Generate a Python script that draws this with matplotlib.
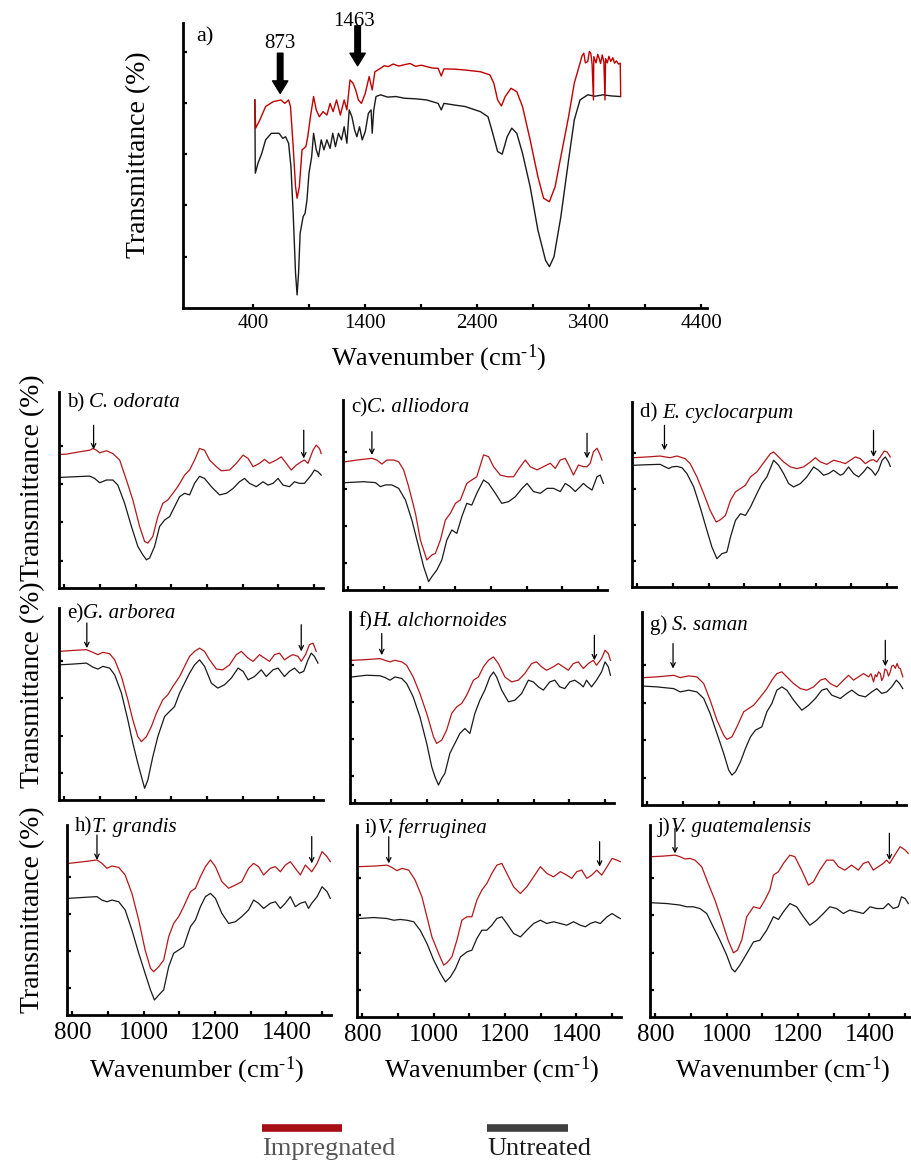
import matplotlib
matplotlib.use('Agg')
import matplotlib.pyplot as plt
from matplotlib.lines import Line2D

plt.rcParams['font.family'] = ['Liberation Serif', 'DejaVu Serif']
plt.rcParams['mathtext.fontset'] = 'custom'
plt.rcParams['mathtext.rm'] = 'Liberation Serif'
plt.rcParams['mathtext.it'] = 'Liberation Serif:italic'
plt.rcParams['mathtext.bf'] = 'Liberation Serif:bold'

RED = '#b3171b'
DARK = '#1a1a1a'
XLABEL = 'Wavenumber (cm$^{\u2010 1}$)'

# ---- panel a: full FTIR spectrum (wavenumber, transmittance) ----
a_untreated = [(416, 73.0), (420, 47.3), (444, 50.8), (478, 54.3), (512, 59.0), (563, 61.3), (632, 61.3),
               (666, 59.5), (690, 60.1), (717, 57.8), (738, 49.6), (758, 33.2), (779, 12.2), (793, 4.6),
               (806, 12.2), (820, 26.2), (847, 32.1), (864, 33.2), (881, 37.9), (899, 47.3), (923, 53.1),
               (940, 61.3), (964, 55.5), (984, 53.1), (1008, 59.0), (1032, 55.5), (1059, 59.0), (1087, 56.0),
               (1111, 61.3), (1135, 56.6), (1162, 61.3), (1189, 59.0), (1213, 63.6), (1237, 57.8), (1258, 69.5),
               (1282, 67.1), (1306, 62.5), (1326, 60.1), (1350, 63.6), (1374, 59.0), (1401, 61.9), (1429, 68.3),
               (1453, 69.5), (1463, 61.3), (1477, 69.5), (1497, 74.2), (1538, 74.8), (1600, 74.0), (1675, 74.2),
               (1750, 73.6), (1850, 73.4), (1949, 73.0), (2051, 71.8), (2079, 69.5), (2103, 71.8), (2200, 71.2),
               (2291, 70.7), (2428, 68.9), (2496, 67.1), (2530, 62.5), (2582, 54.9), (2623, 54.0), (2667, 60.1),
               (2708, 63.1), (2753, 61.3), (2804, 54.3), (2872, 42.6), (2941, 27.4), (3009, 16.8), (3044, 14.5),
               (3085, 18.0), (3146, 32.0), (3215, 51.9), (3266, 66.0), (3317, 73.0), (3386, 74.8), (3450, 74.3),
               (3522, 74.8), (3600, 74.4), (3676, 74.2)]
a_impregnated = [(416, 73.0), (423, 63.1), (461, 66.0), (512, 70.7), (580, 72.4), (649, 73.0), (683, 71.8),
                 (717, 73.0), (734, 70.7), (758, 56.6), (779, 42.6), (793, 38.5), (813, 42.6), (837, 55.5),
                 (871, 56.6), (888, 60.1), (912, 67.1), (940, 74.2), (964, 69.5), (991, 67.1), (1025, 68.9),
                 (1059, 67.7), (1087, 71.8), (1114, 68.9), (1145, 73.0), (1179, 67.7), (1213, 73.0), (1237, 69.5),
                 (1265, 80.0), (1292, 78.9), (1316, 76.5), (1340, 73.0), (1367, 71.8), (1401, 75.3), (1436, 81.2),
                 (1463, 76.5), (1487, 82.9), (1538, 84.1), (1570, 85.0), (1607, 84.7), (1650, 85.6), (1700, 84.9),
                 (1744, 85.3), (1800, 85.8), (1850, 84.8), (1900, 85.2), (1949, 84.7), (2000, 84.2), (2051, 84.1),
                 (2079, 81.4), (2103, 83.9), (2200, 83.8), (2291, 83.5), (2428, 82.9), (2513, 81.8), (2548, 78.9),
                 (2582, 73.0), (2616, 70.9), (2650, 74.2), (2701, 77.1), (2753, 75.9), (2804, 70.7), (2872, 59.0),
                 (2941, 46.1), (2992, 38.5), (3044, 37.3), (3095, 42.6), (3146, 53.1), (3215, 67.1), (3266, 78.9),
                 (3317, 85.9), (3335, 88.5), (3351, 89.4), (3365, 86.0), (3386, 86.5), (3400, 90.0), (3413, 89.4),
                 (3425, 85.5), (3437, 73.0), (3440, 88.2), (3460, 86.0), (3475, 89.0), (3488, 87.6), (3500, 85.8),
                 (3516, 88.8), (3530, 86.3), (3540, 73.0), (3545, 87.5), (3560, 86.0), (3575, 88.3), (3591, 86.5),
                 (3610, 87.8), (3625, 85.9), (3642, 86.7), (3660, 85.6), (3676, 85.9), (3680, 74.2)]
a_peaks = [873, 1463]

# ---- panels b-j: 800-1500 cm-1 region per species ----
b_imp = [(785, 68.1), (806, 68.3), (843, 69.5), (871, 70.3), (880, 71.2), (890, 70.3), (899, 69.0), (918, 70.0),
         (936, 68.6), (955, 65.3), (974, 55.1), (992, 44.9), (1011, 31.4), (1025, 23.7), (1034, 22.9),
         (1048, 26.3), (1062, 36.4), (1076, 43.2), (1090, 44.9), (1104, 48.3), (1118, 51.7), (1137, 57.6),
         (1151, 60.2), (1165, 65.3), (1179, 71.2), (1193, 70.3), (1207, 65.3), (1226, 61.9), (1240, 59.8),
         (1263, 60.2), (1282, 63.6), (1301, 67.8), (1315, 66.1), (1329, 61.9), (1347, 63.6), (1361, 65.6),
         (1375, 63.6), (1394, 65.3), (1408, 66.9), (1422, 63.6), (1436, 60.2), (1450, 62.7), (1464, 64.4),
         (1473, 65.3), (1483, 63.6), (1497, 70.3), (1506, 72.9), (1515, 71.2), (1520, 68.6)]
b_unt = [(785, 56.4), (834, 56.8), (871, 57.1), (885, 55.9), (899, 53.7), (918, 55.1), (936, 55.1), (950, 52.5),
         (969, 43.2), (988, 31.4), (1006, 21.2), (1020, 16.9), (1030, 14.4), (1039, 15.3), (1053, 21.2),
         (1067, 31.4), (1081, 34.7), (1095, 36.4), (1109, 41.5), (1123, 46.6), (1137, 48.3), (1151, 47.5),
         (1165, 53.4), (1179, 57.0), (1193, 55.9), (1212, 51.7), (1235, 47.5), (1254, 48.3), (1273, 50.8),
         (1291, 54.2), (1305, 55.9), (1319, 53.4), (1338, 51.7), (1357, 54.2), (1371, 52.5), (1385, 53.4),
         (1399, 55.9), (1413, 52.5), (1431, 51.7), (1445, 54.2), (1459, 53.4), (1473, 53.4), (1492, 57.6),
         (1501, 60.2), (1511, 59.3), (1520, 57.6)]

c_imp = [(792, 67.5), (824, 68.4), (866, 69.3), (880, 68.4), (894, 66.3), (908, 68.4), (927, 68.4), (941, 67.5),
         (955, 63.2), (969, 54.4), (988, 40.4), (1002, 26.3), (1020, 15.8), (1034, 18.4), (1044, 19.3),
         (1058, 26.3), (1072, 36.8), (1086, 40.4), (1100, 45.6), (1114, 47.4), (1132, 56.1), (1146, 57.9),
         (1160, 59.6), (1179, 71.1), (1193, 70.2), (1207, 64.9), (1226, 60.5), (1245, 59.6), (1263, 59.6),
         (1282, 64.9), (1296, 68.4), (1310, 64.9), (1329, 63.2), (1347, 64.9), (1366, 66.7), (1380, 64.0),
         (1394, 68.4), (1408, 69.3), (1420, 64.9), (1431, 60.5), (1445, 65.8), (1459, 64.9), (1469, 64.9),
         (1478, 66.7), (1487, 72.8), (1497, 74.6), (1504, 71.9), (1511, 68.4)]
c_unt = [(792, 56.5), (843, 57.0), (876, 56.5), (890, 54.4), (904, 55.3), (922, 55.3), (941, 53.5), (960, 47.4),
         (978, 36.8), (997, 22.8), (1011, 12.3), (1025, 4.4), (1034, 7.0), (1048, 10.5), (1062, 15.8),
         (1076, 26.3), (1090, 31.6), (1104, 29.8), (1118, 38.6), (1132, 45.6), (1146, 44.7), (1160, 50.9),
         (1179, 57.9), (1193, 56.1), (1212, 50.9), (1230, 45.6), (1249, 46.5), (1268, 49.1), (1287, 53.5),
         (1301, 56.1), (1319, 51.8), (1338, 50.9), (1357, 53.5), (1375, 53.5), (1394, 51.8), (1408, 56.1),
         (1422, 54.4), (1436, 51.8), (1450, 54.4), (1459, 56.1), (1469, 54.4), (1483, 52.6), (1497, 59.6),
         (1506, 60.5), (1515, 56.1)]

d_imp = [(790, 69.9), (827, 70.3), (864, 70.8), (878, 70.3), (892, 69.9), (911, 70.8), (934, 69.4), (948, 66.7),
         (967, 59.5), (986, 50.5), (1004, 41.4), (1021, 35.1), (1033, 36.4), (1047, 38.7), (1061, 46.8),
         (1075, 51.4), (1089, 53.2), (1103, 55.0), (1117, 59.5), (1135, 62.2), (1159, 68.5), (1173, 72.1),
         (1182, 73.0), (1196, 70.3), (1210, 67.6), (1229, 64.9), (1247, 64.0), (1266, 64.9), (1285, 67.6),
         (1299, 69.9), (1313, 67.6), (1331, 66.3), (1350, 68.5), (1369, 67.6), (1383, 66.7), (1397, 68.5),
         (1411, 70.3), (1425, 69.4), (1439, 66.7), (1453, 68.5), (1462, 68.8), (1471, 67.6), (1481, 70.3),
         (1492, 73.5), (1500, 73.0), (1509, 70.3)]
d_unt = [(790, 65.8), (827, 66.1), (864, 66.3), (878, 64.9), (888, 64.0), (897, 64.9), (911, 65.2), (925, 64.5),
         (939, 61.3), (958, 54.1), (976, 43.2), (995, 30.6), (1009, 21.6), (1023, 15.3), (1037, 18.0),
         (1051, 18.9), (1061, 27.0), (1075, 36.0), (1089, 39.6), (1103, 38.7), (1117, 43.2), (1135, 50.5),
         (1149, 55.9), (1163, 59.5), (1182, 68.5), (1196, 65.8), (1210, 61.3), (1224, 55.9), (1238, 54.1),
         (1257, 55.9), (1275, 59.5), (1294, 64.9), (1308, 63.1), (1322, 60.4), (1336, 61.3), (1350, 63.1),
         (1369, 60.4), (1378, 61.3), (1392, 64.9), (1406, 61.3), (1420, 59.5), (1434, 62.2), (1445, 64.9),
         (1457, 63.1), (1467, 60.4), (1476, 63.1), (1486, 68.5), (1495, 70.3), (1504, 67.6), (1509, 65.2)]

e_imp = [(787, 77.4), (824, 77.9), (862, 78.3), (880, 76.9), (894, 75.7), (908, 76.9), (927, 76.2), (941, 73.0),
         (960, 64.3), (978, 52.2), (992, 41.7), (1006, 33.0), (1016, 30.4), (1030, 33.0), (1044, 38.3),
         (1058, 45.2), (1076, 52.2), (1090, 54.8), (1104, 59.1), (1123, 64.3), (1137, 69.6), (1151, 74.8),
         (1165, 77.4), (1179, 79.1), (1193, 77.4), (1207, 73.0), (1226, 68.2), (1244, 67.8), (1263, 70.4),
         (1282, 75.7), (1296, 77.4), (1315, 73.9), (1329, 72.2), (1347, 75.7), (1361, 73.9), (1375, 72.2),
         (1389, 75.7), (1403, 76.5), (1417, 73.0), (1431, 74.8), (1441, 75.7), (1455, 74.8), (1464, 72.2),
         (1476, 75.7), (1487, 80.9), (1497, 81.7), (1506, 77.4)]
e_unt = [(787, 70.4), (824, 70.8), (862, 71.3), (880, 69.2), (894, 68.2), (908, 69.6), (927, 68.7), (941, 65.2),
         (960, 55.7), (978, 41.7), (992, 29.6), (1006, 19.1), (1016, 12.2), (1025, 6.1), (1034, 10.4),
         (1048, 22.6), (1062, 33.0), (1081, 43.5), (1095, 46.1), (1109, 48.7), (1123, 55.7), (1137, 60.9),
         (1151, 66.1), (1165, 70.4), (1179, 73.0), (1193, 69.6), (1212, 60.9), (1230, 58.3), (1249, 60.0),
         (1268, 63.5), (1287, 68.7), (1301, 67.0), (1315, 62.6), (1333, 64.3), (1352, 67.8), (1366, 64.3),
         (1385, 67.8), (1399, 68.7), (1417, 64.3), (1431, 67.0), (1445, 68.7), (1459, 66.1), (1471, 67.0),
         (1483, 73.0), (1492, 76.5), (1501, 74.8), (1511, 71.3)]

f_imp = [(790, 74.7), (832, 75.1), (869, 75.6), (883, 74.7), (897, 73.9), (911, 74.7), (930, 73.9), (944, 72.1),
         (962, 66.0), (981, 57.3), (1000, 46.9), (1019, 34.7), (1028, 31.2), (1042, 32.9), (1056, 38.2),
         (1070, 46.9), (1084, 50.3), (1098, 52.1), (1112, 56.4), (1131, 64.3), (1145, 66.0), (1159, 71.3),
         (1173, 74.7), (1187, 76.5), (1201, 73.0), (1219, 66.0), (1238, 63.4), (1257, 64.3), (1275, 67.8),
         (1294, 73.0), (1308, 73.9), (1322, 71.3), (1336, 69.5), (1355, 71.3), (1369, 73.0), (1383, 71.3),
         (1397, 69.5), (1411, 73.0), (1425, 73.9), (1439, 70.4), (1453, 73.0), (1467, 74.7), (1476, 72.1),
         (1490, 75.6), (1500, 80.0), (1509, 78.2), (1515, 74.7)]
f_unt = [(790, 66.0), (832, 66.9), (869, 66.6), (883, 65.7), (897, 64.3), (911, 66.0), (930, 65.2), (944, 62.5),
         (962, 55.6), (981, 45.1), (1000, 31.2), (1014, 19.0), (1023, 13.8), (1033, 9.4), (1042, 12.9),
         (1051, 15.5), (1065, 26.0), (1079, 31.2), (1093, 36.4), (1107, 39.0), (1121, 36.4), (1135, 46.9),
         (1149, 53.8), (1163, 59.1), (1177, 66.0), (1187, 68.6), (1196, 66.0), (1210, 59.1), (1229, 53.0),
         (1247, 53.8), (1266, 57.3), (1285, 64.3), (1299, 63.4), (1313, 60.8), (1327, 59.1), (1345, 63.4),
         (1359, 64.3), (1373, 60.8), (1387, 59.9), (1401, 63.4), (1415, 64.3), (1429, 62.5), (1439, 60.8),
         (1448, 64.3), (1462, 60.8), (1476, 64.3), (1490, 68.6), (1500, 73.9), (1509, 71.3), (1515, 66.9)]

g_imp = [(790, 66.0), (827, 66.4), (874, 67.2), (892, 66.0), (916, 66.9), (939, 66.4), (958, 62.9), (976, 54.3),
         (995, 44.0), (1014, 36.2), (1023, 34.0), (1037, 35.3), (1051, 40.5), (1070, 48.3), (1084, 50.0),
         (1098, 51.7), (1117, 56.0), (1135, 60.3), (1149, 64.7), (1163, 68.1), (1177, 69.0), (1191, 66.4),
         (1210, 62.9), (1229, 60.3), (1247, 59.5), (1266, 61.2), (1285, 64.7), (1299, 65.5), (1313, 62.9),
         (1331, 61.2), (1350, 64.7), (1364, 67.2), (1378, 64.7), (1392, 66.4), (1406, 68.1), (1420, 66.4),
         (1427, 68.0), (1434, 63.8), (1439, 67.5), (1443, 66.4), (1448, 69.0), (1453, 68.1), (1457, 64.5),
         (1462, 66.4), (1466, 70.5), (1471, 69.8), (1476, 66.8), (1481, 69.0), (1485, 72.0), (1490, 72.4),
         (1495, 70.8), (1500, 73.3), (1505, 71.0), (1509, 70.7), (1512, 68.8), (1516, 66.4)]
g_unt = [(790, 61.6), (827, 61.2), (874, 60.3), (892, 58.6), (916, 59.5), (939, 58.6), (958, 55.2), (976, 47.4),
         (995, 37.1), (1014, 26.7), (1028, 18.1), (1037, 15.5), (1047, 17.2), (1061, 22.4), (1075, 29.3),
         (1089, 35.3), (1103, 38.8), (1121, 40.5), (1135, 48.3), (1149, 52.6), (1163, 59.5), (1177, 61.2),
         (1191, 59.5), (1210, 54.3), (1233, 49.1), (1252, 51.7), (1271, 55.2), (1289, 59.5), (1303, 60.3),
         (1317, 56.9), (1341, 55.2), (1359, 57.8), (1373, 59.5), (1392, 56.9), (1411, 56.0), (1429, 58.6),
         (1443, 60.3), (1457, 57.8), (1471, 58.6), (1485, 61.2), (1498, 64.7), (1507, 62.9), (1516, 60.3)]

h_imp = [(790, 79.8), (832, 80.7), (869, 81.6), (883, 79.8), (897, 77.2), (911, 78.4), (930, 77.7), (948, 73.7),
         (967, 64.0), (986, 50.0), (1004, 34.2), (1019, 24.6), (1028, 22.8), (1042, 25.4), (1056, 28.9),
         (1070, 41.2), (1084, 48.2), (1098, 51.8), (1112, 57.0), (1131, 64.9), (1145, 66.7), (1159, 72.8),
         (1173, 78.1), (1187, 81.6), (1201, 78.1), (1219, 70.2), (1238, 66.7), (1257, 68.4), (1275, 70.2),
         (1294, 77.2), (1308, 79.8), (1322, 78.1), (1336, 73.7), (1355, 77.2), (1369, 78.1), (1383, 75.4),
         (1397, 78.9), (1411, 80.7), (1425, 77.2), (1439, 73.7), (1453, 78.9), (1462, 77.2), (1471, 75.4),
         (1486, 79.8), (1500, 86.0), (1514, 83.3), (1523, 80.7)]
h_unt = [(790, 61.4), (832, 61.9), (869, 62.3), (883, 60.5), (897, 59.6), (911, 60.5), (930, 59.6), (948, 55.3),
         (967, 44.7), (986, 32.5), (1004, 21.9), (1019, 13.2), (1030, 7.9), (1042, 10.5), (1056, 13.2),
         (1070, 25.4), (1084, 32.5), (1098, 34.2), (1112, 36.0), (1131, 46.5), (1145, 50.0), (1159, 57.0),
         (1173, 62.3), (1187, 64.0), (1201, 61.4), (1219, 53.5), (1238, 48.2), (1257, 49.1), (1275, 51.8),
         (1294, 55.3), (1308, 60.5), (1322, 58.8), (1336, 56.1), (1355, 58.8), (1369, 59.6), (1383, 56.1),
         (1397, 58.8), (1411, 62.3), (1425, 57.0), (1439, 58.8), (1453, 59.6), (1462, 56.1), (1471, 58.8),
         (1486, 62.3), (1500, 67.5), (1514, 64.9), (1523, 61.4)]

i_imp = [(790, 78.3), (832, 78.6), (869, 79.1), (883, 77.9), (897, 76.2), (911, 77.4), (930, 76.5), (948, 71.3),
         (967, 62.6), (981, 52.2), (995, 41.7), (1014, 33.0), (1028, 27.0), (1037, 28.2), (1051, 31.3),
         (1065, 40.0), (1079, 50.4), (1093, 52.2), (1107, 52.2), (1121, 60.9), (1135, 66.1), (1149, 69.6),
         (1163, 74.8), (1177, 79.1), (1191, 80.0), (1205, 74.8), (1224, 67.8), (1243, 64.3), (1261, 67.8),
         (1280, 73.0), (1299, 78.3), (1317, 74.8), (1336, 73.0), (1355, 75.7), (1373, 73.9), (1387, 72.2),
         (1401, 75.7), (1415, 76.5), (1429, 72.2), (1443, 73.9), (1457, 76.5), (1471, 73.9), (1486, 78.3),
         (1500, 82.6), (1514, 81.7), (1523, 80.9)]
i_unt = [(790, 51.3), (832, 51.8), (869, 51.3), (888, 50.4), (906, 50.8), (925, 50.4), (944, 49.6), (962, 45.2),
         (981, 38.3), (1000, 29.6), (1019, 22.6), (1033, 18.3), (1047, 20.9), (1061, 25.2), (1075, 31.3),
         (1093, 33.9), (1107, 34.8), (1121, 40.9), (1135, 45.2), (1149, 45.2), (1163, 47.8), (1177, 51.3),
         (1191, 52.2), (1205, 48.7), (1224, 43.5), (1243, 41.7), (1261, 45.2), (1280, 48.7), (1299, 50.4),
         (1317, 48.7), (1336, 49.6), (1355, 48.7), (1373, 47.8), (1392, 49.6), (1411, 47.8), (1425, 47.0),
         (1439, 48.7), (1453, 49.6), (1467, 48.7), (1486, 52.2), (1500, 53.9), (1514, 52.2), (1523, 51.3)]

j_imp = [(790, 83.5), (822, 83.8), (855, 84.3), (869, 83.5), (883, 82.3), (897, 82.6), (911, 81.7), (930, 78.3),
         (948, 69.6), (967, 60.9), (986, 50.4), (1004, 40.0), (1019, 33.4), (1030, 34.8), (1042, 40.0),
         (1056, 52.2), (1075, 57.4), (1093, 56.5), (1107, 60.9), (1121, 66.1), (1131, 73.9), (1145, 75.7),
         (1159, 80.0), (1177, 84.3), (1191, 83.5), (1210, 76.5), (1229, 68.7), (1243, 70.4), (1261, 76.5),
         (1280, 81.7), (1299, 81.7), (1313, 78.3), (1331, 76.5), (1350, 79.1), (1369, 76.5), (1383, 80.0),
         (1397, 80.9), (1411, 76.5), (1425, 78.3), (1439, 80.0), (1448, 81.7), (1457, 80.0), (1471, 84.3),
         (1486, 88.7), (1500, 87.0), (1509, 85.2)]
j_unt = [(790, 59.5), (832, 59.1), (869, 58.3), (888, 57.4), (906, 57.4), (925, 56.5), (944, 53.9), (962, 47.0),
         (981, 40.0), (1000, 32.2), (1014, 25.2), (1023, 23.5), (1037, 27.0), (1056, 33.0), (1075, 39.1),
         (1093, 40.0), (1112, 45.2), (1131, 52.2), (1145, 50.8), (1159, 54.8), (1177, 59.1), (1196, 57.4),
         (1215, 52.2), (1233, 47.8), (1252, 50.4), (1271, 53.9), (1289, 57.4), (1308, 56.5), (1327, 53.9),
         (1345, 55.7), (1364, 54.8), (1383, 53.9), (1402, 57.4), (1420, 56.5), (1439, 56.5), (1453, 59.1),
         (1467, 56.5), (1481, 57.4), (1490, 62.6), (1500, 61.7), (1509, 59.1)]

tags = ['b) ', 'c)', 'd) ', 'e)', 'f)', 'g) ', 'h)', 'i)', 'j)']
species = ['C. odorata', 'C. alliodora', 'E. cyclocarpum', 'G. arborea', 'H. alchornoides',
           'S. saman', 'T. grandis', 'V. ferruginea', 'V. guatemalensis']
impregnated = [b_imp, c_imp, d_imp, e_imp, f_imp, g_imp, h_imp, i_imp, j_imp]
untreated = [b_unt, c_unt, d_unt, e_unt, f_unt, g_unt, h_unt, i_unt, j_unt]
# arrows: (wavenumber, tail, head) for the ~870 and ~1460 bands
arrows_left = [(882, 83.0, 70.7), (866, 83.3, 71.1), (876, 87.4, 73.9), (863, 92.2, 79.1), (874, 88.7, 77.4),
               (872, 83.6, 70.7), (869, 94.7, 81.6), (874, 93.9, 80.0), (855, 98.3, 85.2)]
arrows_right = [(1471, 80.5, 66.1), (1469, 82.5, 69.3), (1462, 84.7, 70.3), (1464, 91.3, 77.4), (1470, 87.8, 74.7),
                (1467, 85.3, 71.9), (1471, 93.9, 79.8), (1465, 91.3, 78.3), (1456, 95.7, 81.7)]

W, H = 912, 1162
fig = plt.figure(figsize=(W / 100, H / 100), dpi=100)


def px_axes(left, top, bottom, width):
    return fig.add_axes([left / W, 1 - bottom / H, width / W, (bottom - top) / H])


def style(ax):
    for s in ['top', 'right']:
        ax.spines[s].set_visible(False)
    for s in ['left', 'bottom']:
        ax.spines[s].set_linewidth(2.0)
    ax.tick_params(direction='in', length=3, width=1.6)


# ---- top panel ----
ax = px_axes(183, 23, 308, 524)
style(ax)
xs, ys = zip(*a_untreated)
ax.plot(xs, ys, color=DARK, lw=1.0)
xs, ys = zip(*a_impregnated)
ax.plot(xs, ys, color='#c00000', lw=1.0)
ax.set_xlim(-225, 4450)
ax.set_ylim(0, 100)
ax.set_xticks(range(400, 4401, 500))
ax.set_xticklabels([str(v) if (v - 400) % 1000 == 0 else '' for v in range(400, 4401, 500)])
ax.set_yticks([18, 36, 54, 72, 90])
ax.set_yticklabels([])
ax.tick_params(axis='x', labelsize=15, pad=4)
ax.text(-110, 95, 'a)', fontsize=16, va='center')
peak_pos = [(642, 89.4, 75.3, 92.9), (1333, 99.0, 85.0, 100.6)]
for (px, tail, head, ly), pk in zip(peak_pos, a_peaks):
    ax.annotate('', xy=(px, head), xytext=(px, tail),
                arrowprops=dict(facecolor='black', edgecolor='black', width=4, headwidth=11,
                                headlength=9, shrink=0), annotation_clip=False)
    ax.text(px - (35 if pk > 1000 else 0), ly, str(pk), fontsize=15, ha='center', va='center', clip_on=False)
fig.text(139 / W, 1 - 155 / H, 'Transmittance (%)', rotation=90, fontsize=20, ha='center', va='center')
fig.text(439 / W, 1 - 358 / H, XLABEL, fontsize=19, ha='center', va='center')

# ---- species panels ----
boxes = [(59, 392, 588), (343, 400, 590), (632, 402, 587),
         (59, 608, 800), (350, 612, 803), (642, 612, 805),
         (67, 825, 1015), (357, 825, 1017), (650, 825, 1017)]
title_y = [0.945, 0.96, 0.94, 0.97, 0.95, 0.93, 0.99, 0.98, 0.99]
for k in range(9):
    left, top, bottom = boxes[k]
    ax = px_axes(left, top, bottom, 264)
    style(ax)
    xs, ys = zip(*untreated[k])
    ax.plot(xs, ys, color=DARK, lw=0.9)
    xs, ys = zip(*impregnated[k])
    ax.plot(xs, ys, color=RED, lw=0.9)
    ax.set_xlim(785, 1525)
    ax.set_ylim(0, 100)
    ax.set_yticks([14, 33.5, 53, 72.5])
    ax.set_yticklabels([])
    ax.set_xticks(range(800, 1501, 100))
    if k >= 6:
        ax.set_xticklabels([str(v) if v % 200 == 0 else '' for v in range(800, 1501, 100)])
        ax.tick_params(axis='x', labelsize=18, pad=5)
    else:
        ax.set_xticklabels([])
    tag = ax.text(0.03, title_y[k], tags[k], transform=ax.transAxes,
                  fontsize=15, va='center', ha='left', clip_on=False)
    ax.annotate(species[k], xy=(1, 0), xycoords=tag, fontsize=15, fontstyle='italic',
                va='bottom', ha='left', annotation_clip=False)
    for x, tail, head in (arrows_left[k], arrows_right[k]):
        ax.annotate('', xy=(x, head), xytext=(x, tail),
                    arrowprops=dict(arrowstyle='->', lw=0.9, color='black', shrinkA=0, shrinkB=0,
                                    mutation_scale=8), annotation_clip=False)

for yc in [478, 685, 910]:
    fig.text(33 / W, 1 - yc / H, 'Transmittance (%)', rotation=90, fontsize=20, ha='center', va='center')
for xc in [197, 492, 783]:
    fig.text(xc / W, 1 - 1070 / H, XLABEL, fontsize=19, ha='center', va='center')

# ---- legend ----
fig.add_artist(Line2D([262 / W, 342 / W], [1 - 1128 / H] * 2, color='#a50f15', lw=5.5,
                      transform=fig.transFigure, solid_capstyle='butt'))
fig.add_artist(Line2D([487 / W, 568 / W], [1 - 1128 / H] * 2, color='#404040', lw=5.5,
                      transform=fig.transFigure, solid_capstyle='butt'))
fig.text(262 / W, 1 - 1149 / H, 'Impregnated', fontsize=19, color='#555555', ha='left', va='center')
fig.text(487 / W, 1 - 1149 / H, 'Untreated', fontsize=19, color='#1a1a1a', ha='left', va='center')

fig.savefig('out.png', dpi=100)
